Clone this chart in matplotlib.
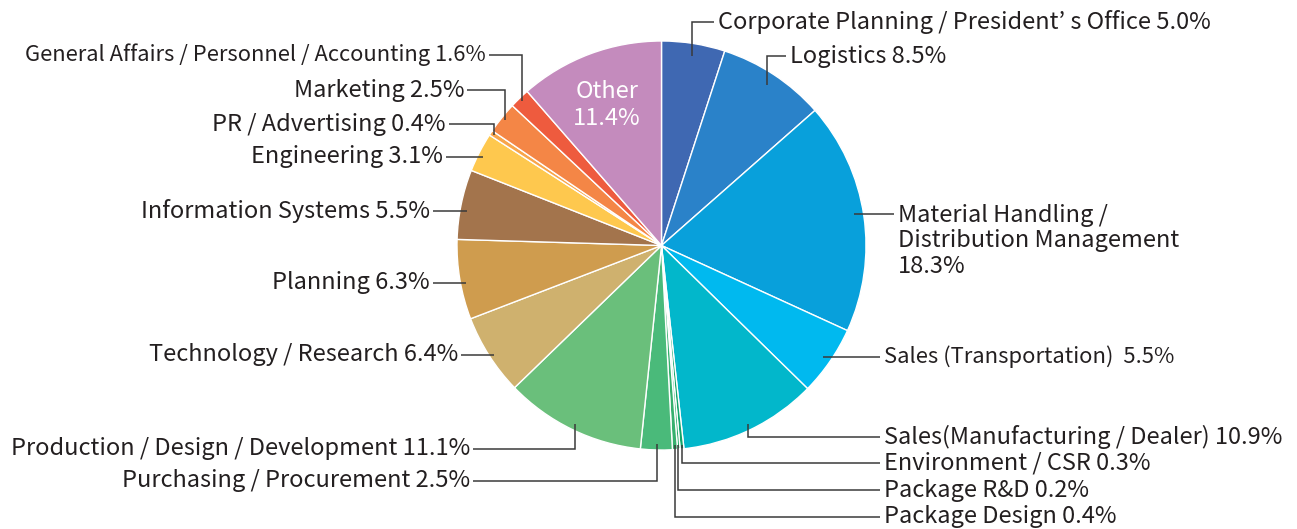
import numpy as np
import matplotlib.pyplot as plt

plt.rcParams['font.family'] = ['Noto Sans CJK JP', 'DejaVu Sans']

# data, clockwise from 12 o'clock
labels = ["Corporate Planning / President’ s Office", "Logistics",
          "Material Handling /\nDistribution Management\n", "Sales (Transportation) ",
          "Sales(Manufacturing / Dealer)", "Environment / CSR", "Package R&D",
          "Package Design", "Purchasing / Procurement", "Production / Design / Development",
          "Technology / Research", "Planning", "Information Systems", "Engineering",
          "PR / Advertising", "Marketing", "General Affairs / Personnel / Accounting", "Other"]
shares = [5.0, 8.5, 18.3, 5.5, 10.9, 0.3, 0.2, 0.4, 2.5, 11.1,
          6.4, 6.3, 5.5, 3.1, 0.4, 2.5, 1.6, 11.4]
colors = ["#3f68b2", "#2a82c9", "#08a0db", "#00b9ef", "#02b7cb", "#13a56a",
          "#22a964", "#36b06e", "#4aba7a", "#6abf7b", "#cfb16e", "#cf9c4e",
          "#a3744c", "#fec84e", "#f8a54a", "#f48646", "#ee5b3e", "#c48bbd"]

# label layout (pixel coords): text x, text y, leader style, anchor radius, font size
lab_x = [718, 790, 898, 884, 884, 884, 884, 884, 470, 470, 458, 430, 430, 443, 446, 464, 486, None]
lab_y = [22, 56, 241, 357, 437, 463, 490, 517, 481, 449, 355, 283, 211, 157, 124, 90, 55, None]
style = ['v', 'v', 'h', 'h', 'v', 'v', 'v', 'v', 'v', 'v', 'h', 'h', 'h', 'h', 'v', 'v', 'v', None]
anchor_r = [0.94, 0.94, 0.95, 0.96, 0.97, 0.98, 0.98, 0.98, 0.97, 0.97,
            0.97, 0.97, 0.97, 0.98, 0.98, 0.98, 0.98, None]
lab_fs = [17, 17, 17, 15.9, 17, 17, 17, 17, 17, 17, 17, 17, 17, 17, 17, 17, 15.8, 17]

cx, cy, R = 661.5, 245.5, 204.5
W, H = 1297, 529

fig = plt.figure(figsize=(W / 100, H / 100), dpi=100)
ax = fig.add_axes([0, 0, 1, 1])

ax.pie(shares, colors=colors, startangle=-90, counterclock=True,
       center=(cx, cy), radius=R,
       wedgeprops=dict(edgecolor='white', linewidth=1.0))
ax.set_xlim(0, W)
ax.set_ylim(H, 0)
ax.set_aspect('equal')
ax.axis('off')

cum = np.cumsum([0] + shares[:-1])
total = sum(shares)
for i, name in enumerate(labels):
    if lab_x[i] is None:
        continue
    mid = np.deg2rad((cum[i] + shares[i] / 2) / total * 360)
    r = anchor_r[i] * R
    axp = cx + r * np.sin(mid)
    ayp = cy - r * np.cos(mid)
    right = lab_x[i] > cx
    ly = lab_y[i]
    lend = lab_x[i] - 4 if right else lab_x[i] + 3
    if name.endswith("\n"):
        # multi-line label: leader points at first line
        ly = ly - 27
    if style[i] == 'v':
        xs, ys = [axp, axp, lend], [ayp, ly, ly]
    else:
        xs, ys = [axp, lend], [ly, ly]
    ax.plot(xs, ys, color='#3a3a3a', lw=1.1, solid_capstyle='butt', solid_joinstyle='miter')
    if name.endswith("\n"):
        ax.text(lab_x[i], lab_y[i], f"{name}{shares[i]:.1f}%", ha='left', va='center',
                fontsize=lab_fs[i], color='#231f20', linespacing=1.16)
    else:
        ax.text(lab_x[i], ly, f"{name} {shares[i]:.1f}%", ha='left' if right else 'right',
                va='center', fontsize=lab_fs[i], color='#231f20')

ax.text(607, 105, f"{labels[-1]}\n{shares[-1]:.1f}%", ha='center', va='center',
        fontsize=lab_fs[-1], color='white', linespacing=1.25)

fig.savefig('out.png', dpi=100)
